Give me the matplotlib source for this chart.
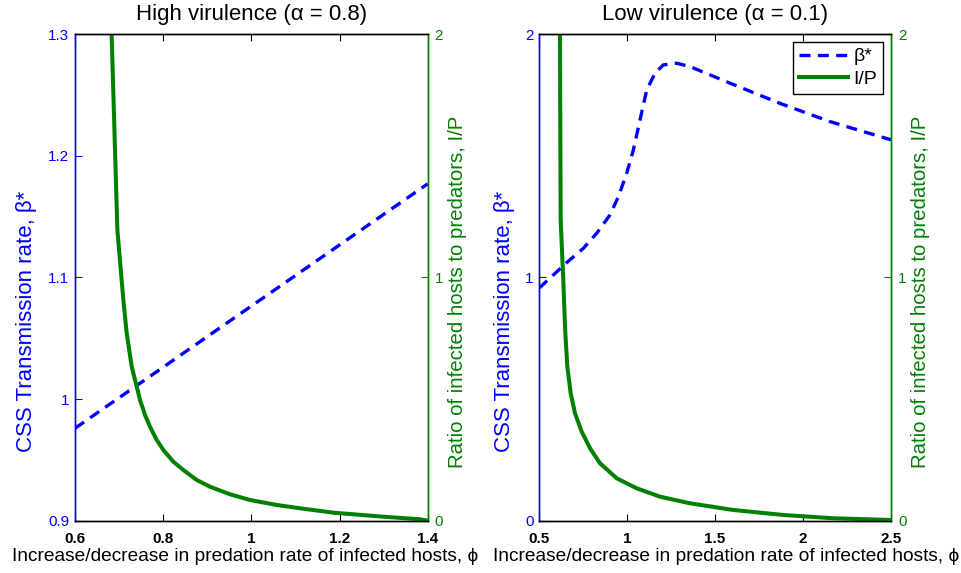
import matplotlib
matplotlib.use('Agg')
import matplotlib.pyplot as plt

plt.rcParams['font.family'] = ['Liberation Sans', 'DejaVu Sans']

BLUE = '#0000ff'
GREEN = '#008000'

# High virulence (alpha = 0.8)
hi_phi_beta = [0.6, 1.4]
hi_beta = [0.976, 1.177]
hi_phi_ratio = [0.683, 0.696, 0.7096, 0.7172, 0.7286, 0.740, 0.7474, 0.7588, 0.770,
                0.7853, 0.8003, 0.823, 0.8456, 0.876, 0.906, 0.9516, 0.9969, 1.0575,
                1.1103, 1.1859, 1.2993, 1.3825, 1.4]
hi_ratio = [2.0, 1.196, 0.9075, 0.7705, 0.633, 0.551, 0.4963, 0.4346, 0.3865,
            0.3318, 0.2907, 0.2426, 0.2085, 0.1674, 0.1398, 0.1085, 0.0851, 0.0646,
            0.051, 0.0329, 0.0164, 0.0058, 0.0]

# Low virulence (alpha = 0.1)
lo_phi_beta = [0.5, 0.581, 0.657, 0.752, 0.828, 0.903, 0.951, 0.998, 1.036, 1.074,
               1.112, 1.159, 1.206, 1.282, 1.358, 1.585, 1.869, 2.153, 2.5]
lo_beta = [0.956, 1.010, 1.061, 1.120, 1.182, 1.257, 1.332, 1.428, 1.524, 1.648,
           1.771, 1.840, 1.874, 1.881, 1.867, 1.799, 1.716, 1.641, 1.566]
lo_phi_ratio = [0.619, 0.623, 0.638, 0.642, 0.6496, 0.661, 0.680, 0.7045, 0.7425,
                0.790, 0.8466, 0.9415, 1.0551, 1.1875, 1.358, 1.604, 1.888, 2.172,
                2.494, 2.5]
lo_ratio = [2.0, 1.237, 0.99, 0.9075, 0.7705, 0.633, 0.524, 0.4416, 0.366,
            0.2977, 0.236, 0.1743, 0.1332, 0.0987, 0.0715, 0.044, 0.0234, 0.0099,
            0.003, 0.0]

panels = [
    dict(title='High virulence (\u03b1 = 0.8)', x=hi_phi_beta, b=hi_beta,
         xr=hi_phi_ratio, r=hi_ratio, xlim=(0.6, 1.4), xticks=[0.6, 0.8, 1, 1.2, 1.4],
         ylim=(0.9, 1.3), yticks=[0.9, 1, 1.1, 1.2, 1.3],
         pos=[0.078, 0.0913, 0.3666, 0.8489], legend=False,
         xlab_x=0.482, ylab_x=-0.108),
    dict(title='Low virulence (\u03b1 = 0.1)', x=lo_phi_beta, b=lo_beta,
         xr=lo_phi_ratio, r=lo_ratio, xlim=(0.5, 2.5), xticks=[0.5, 1, 1.5, 2, 2.5],
         ylim=(0, 2), yticks=[0, 1, 2],
         pos=[0.5603, 0.0913, 0.3659, 0.8489], legend=True,
         xlab_x=0.531, ylab_x=-0.068),
]

fig = plt.figure(figsize=(9.62, 5.73), dpi=100)

for p in panels:
    ax = fig.add_axes(p['pos'])
    ax2 = ax.twinx()
    lb, = ax.plot(p['x'], p['b'], '--', color=BLUE, lw=2.4, dashes=(3.3, 2.2))
    lg, = ax2.plot(p['xr'], p['r'], '-', color=GREEN, lw=2.9)
    ax.set_xlim(*p['xlim'])
    ax.set_ylim(*p['ylim'])
    ax2.set_ylim(0, 2)
    ax.set_xticks(p['xticks'])
    ax.set_xticklabels([f'{v:g}' for v in p['xticks']], fontweight='bold')
    ax.set_yticks(p['yticks'])
    ax.set_yticklabels([f'{v:g}' for v in p['yticks']])
    ax2.set_yticks([0, 1, 2])
    ax2.set_yticklabels(['0', '1', '2'])

    ax.tick_params(axis='x', direction='in', top=True, labelsize=11, length=5, pad=8)
    ax.tick_params(axis='y', direction='in', colors=BLUE, labelsize=11, length=5, pad=4)
    ax2.tick_params(axis='y', direction='in', colors=GREEN, labelsize=11, length=5, pad=5)

    for a in (ax, ax2):
        a.spines['left'].set_color(BLUE)
        a.spines['right'].set_color(GREEN)
        for s in a.spines.values():
            s.set_linewidth(1.0)

    ax.set_title(p['title'], fontsize=16, pad=10)
    ax.set_xlabel('Increase/decrease in predation rate of infected hosts, \u03d5', fontsize=13.8)
    ax.xaxis.set_label_coords(p['xlab_x'], -0.056)
    ax.set_ylabel('CSS Transmission rate, \u03b2*', color=BLUE, fontsize=16)
    ax.yaxis.set_label_coords(p['ylab_x'], 0.41)
    ax2.set_ylabel('Ratio of infected hosts to predators, I/P', color=GREEN, fontsize=14.7)
    ax2.yaxis.set_label_coords(1.058, 0.471)

    if p['legend']:
        leg = ax2.legend([lb, lg], ['\u03b2*', 'I/P'], loc='upper right', fontsize=14,
                         fancybox=False, framealpha=1, edgecolor='black',
                         handlelength=2.5, handletextpad=0.3, borderpad=0.3,
                         labelspacing=0.25, borderaxespad=0.4)
        leg.get_frame().set_linewidth(1.0)

fig.savefig('out.png', dpi=100)
